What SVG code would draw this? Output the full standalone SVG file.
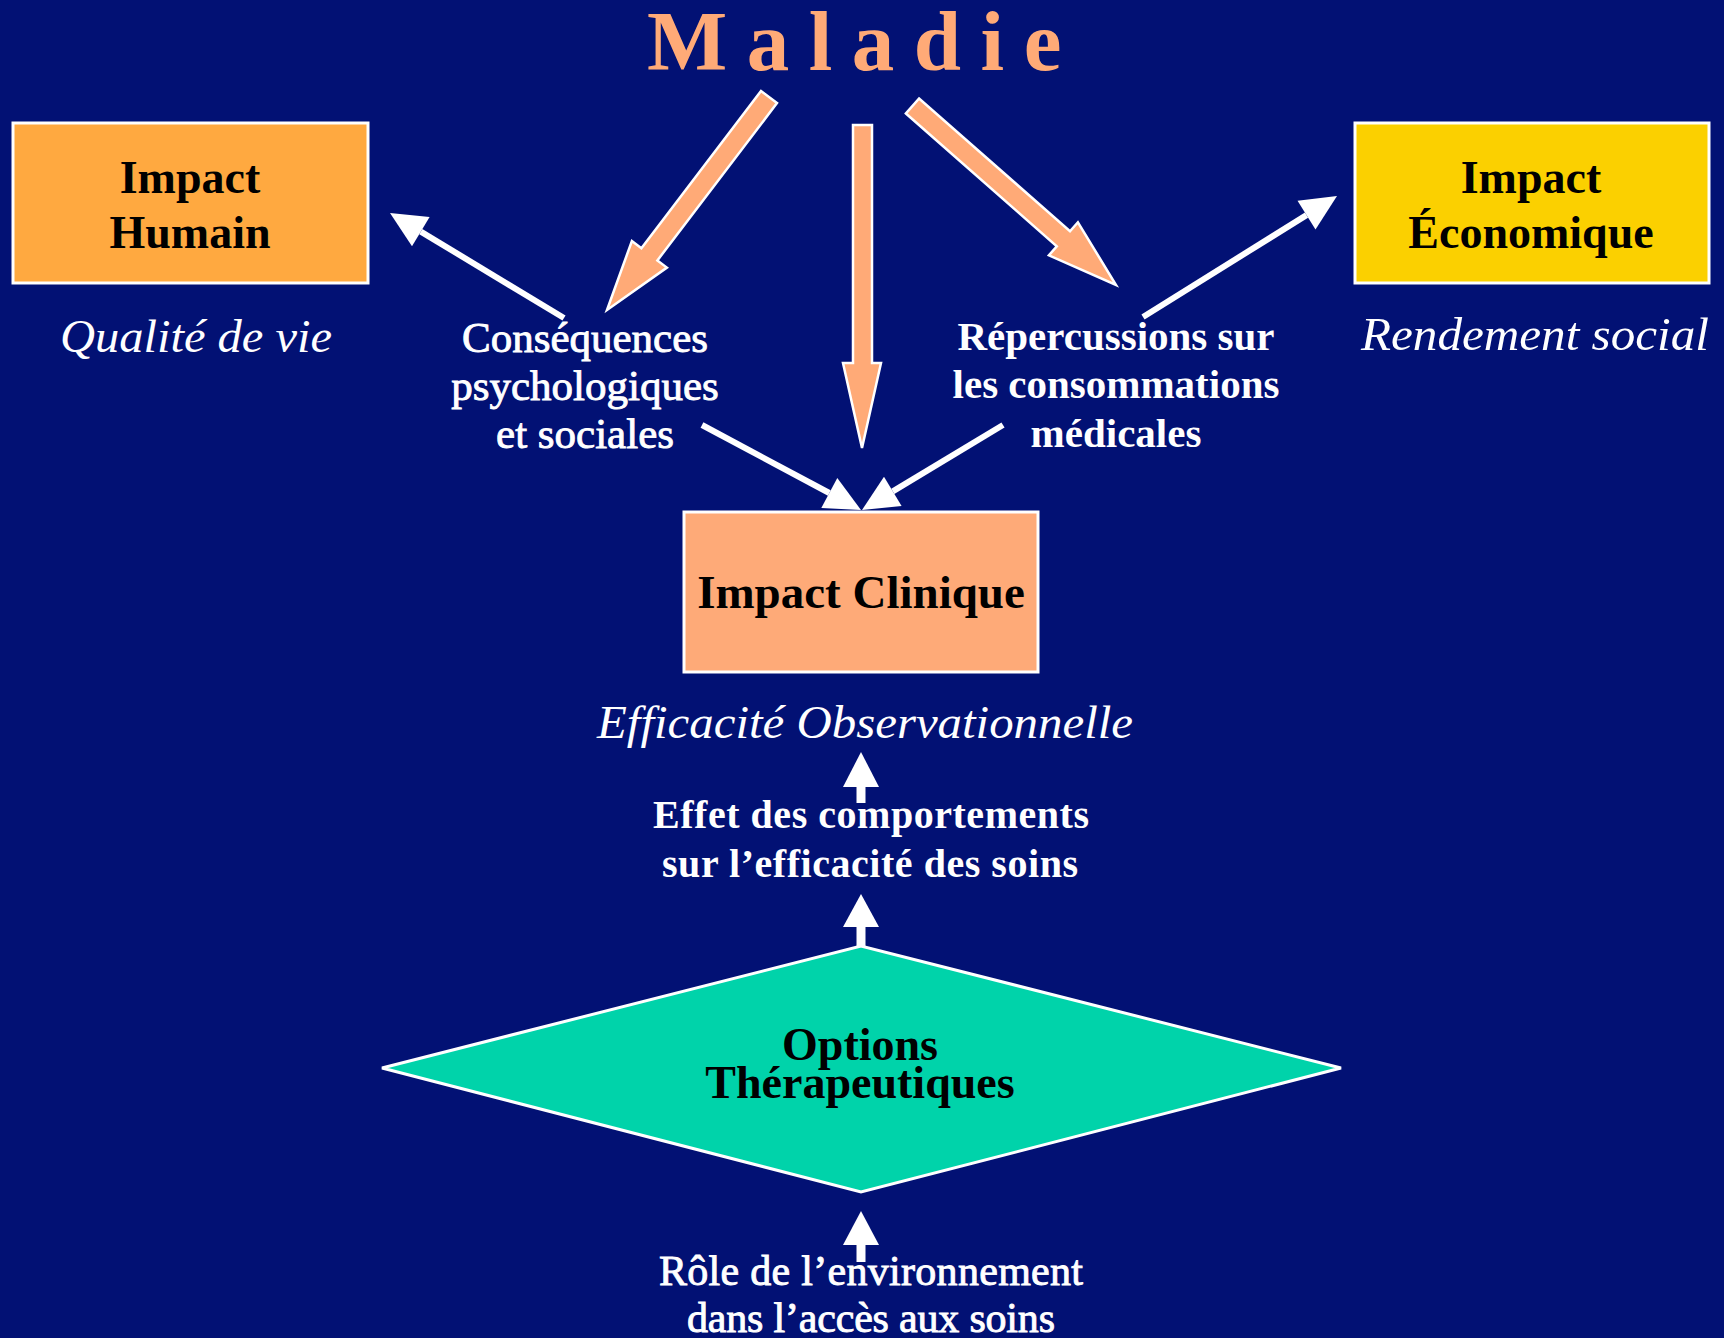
<svg xmlns="http://www.w3.org/2000/svg" width="1724" height="1338" viewBox="0 0 1724 1338">
<style>
.bg{fill:#021174}
.box{stroke:#ffffff;stroke-width:3}
.lbl{font-family:"Liberation Serif","Times New Roman",serif;font-weight:bold;fill:#000000;text-anchor:middle}
.wb{font-family:"Liberation Serif","Times New Roman",serif;font-weight:bold;fill:#ffffff;text-anchor:middle}
.wr{font-family:"Liberation Serif","Times New Roman",serif;font-weight:normal;fill:#ffffff;stroke:#ffffff;stroke-width:0.9;text-anchor:middle}
.it{font-family:"Liberation Serif","Times New Roman",serif;font-style:italic;fill:#ffffff;text-anchor:middle}
.big{fill:#FFAA77;stroke:#ffffff;stroke-width:2.5;stroke-linejoin:miter}
.wl{stroke:#ffffff;stroke-width:6;fill:none}
.ws{stroke:#ffffff;stroke-width:9;fill:none}
.wh{fill:#ffffff}
</style>
<rect class="bg" x="0" y="0" width="1724" height="1338"/>

<g id="maladie">
<text x="647" y="70" font-family="Liberation Serif, Times New Roman, serif" font-weight="bold" font-size="85" letter-spacing="19.5" fill="#FFAA77">Maladie</text>
</g>

<g id="connectors">
<polygon class="big" points="777,103.1 657.4,260.4 666.9,267.6 607,310 631.9,241 641.4,248.2 761,91"/>
<polygon class="big" points="853,125 872,125 872,363 881,363 862,448 843,363 853,363"/>
<polygon class="big" points="905.9,113.5 1056.8,246.3 1048.9,255.3 1116,285 1077.9,222.3 1070,231.3 919.1,98.5"/>

<line class="wl" x1="564" y1="318" x2="420.8" y2="231.6"/>
<polygon class="wh" points="390,213 429.6,217 412,246.2"/>
<line class="wl" x1="1143" y1="317" x2="1306.5" y2="215.1"/>
<polygon class="wh" points="1337,196 1315.5,229.5 1297.5,200.7"/>
<line class="wl" x1="702" y1="425" x2="829.3" y2="493"/>
<polygon class="wh" points="861,510 821.3,508 837.3,478"/>
<line class="wl" x1="1003" y1="425" x2="892.8" y2="491.4"/>
<polygon class="wh" points="862,510 884,476.8 901.6,506"/>

<line class="ws" x1="861" y1="803" x2="861" y2="785"/>
<polygon class="wh" points="861,752 879,787 843,787"/>
<line class="ws" x1="861" y1="946" x2="861" y2="925"/>
<polygon class="wh" points="861,894 879,927 843,927"/>
<line class="ws" x1="861" y1="1262" x2="861" y2="1243"/>
<polygon class="wh" points="861,1211 879,1245 843,1245"/>
</g>

<g id="impact-humain">
<rect class="box" x="13" y="123" width="355" height="160" fill="#FFA940"/>
<text class="lbl" x="190" y="193" font-size="46">Impact</text>
<text class="lbl" x="190" y="248" font-size="46">Humain</text>
</g>
<g id="qualite-de-vie">
<text class="it" x="196" y="352" font-size="47" textLength="272" lengthAdjust="spacingAndGlyphs">Qualité de vie</text>
</g>

<g id="impact-economique">
<rect class="box" x="1355" y="123" width="354" height="160" fill="#FBD000"/>
<text class="lbl" x="1531" y="193" font-size="46">Impact</text>
<text class="lbl" x="1531" y="248" font-size="46">Économique</text>
</g>
<g id="rendement-social">
<text class="it" x="1535" y="350" font-size="47" textLength="348" lengthAdjust="spacingAndGlyphs">Rendement social</text>
</g>

<g id="consequences">
<text class="wr" x="585" y="352" font-size="43">Conséquences</text>
<text class="wr" x="585" y="400" font-size="43">psychologiques</text>
<text class="wr" x="585" y="448" font-size="43">et sociales</text>
</g>

<g id="repercussions">
<text class="wb" x="1116" y="350" font-size="41">Répercussions sur</text>
<text class="wb" x="1116" y="398" font-size="41">les consommations</text>
<text class="wb" x="1116" y="447" font-size="41">médicales</text>
</g>

<g id="impact-clinique">
<rect class="box" x="684" y="512" width="354" height="160" fill="#FEAA78"/>
<text class="lbl" x="861" y="608" font-size="47">Impact Clinique</text>
</g>

<g id="efficacite">
<text class="it" x="865" y="738" font-size="47" textLength="536" lengthAdjust="spacingAndGlyphs">Efficacité Observationnelle</text>
</g>

<g id="effet-comportements">
<text class="wb" x="871" y="828" font-size="40" textLength="436">Effet des comportements</text>
<text class="wb" x="870" y="877" font-size="40" textLength="416">sur l’efficacité des soins</text>
</g>

<g id="options-therapeutiques">
<polygon points="382,1068 861,946 1341,1068 861,1192" fill="#00D3AA" stroke="#ffffff" stroke-width="3"/>
<text class="lbl" x="860" y="1060" font-size="46">Options</text>
<text class="lbl" x="860" y="1098" font-size="46">Thérapeutiques</text>
</g>

<g id="role-environnement">
<text class="wr" x="871" y="1285" font-size="42" textLength="424">Rôle de l’environnement</text>
<text class="wr" x="871" y="1332" font-size="42" textLength="368">dans l’accès aux soins</text>
</g>
</svg>
